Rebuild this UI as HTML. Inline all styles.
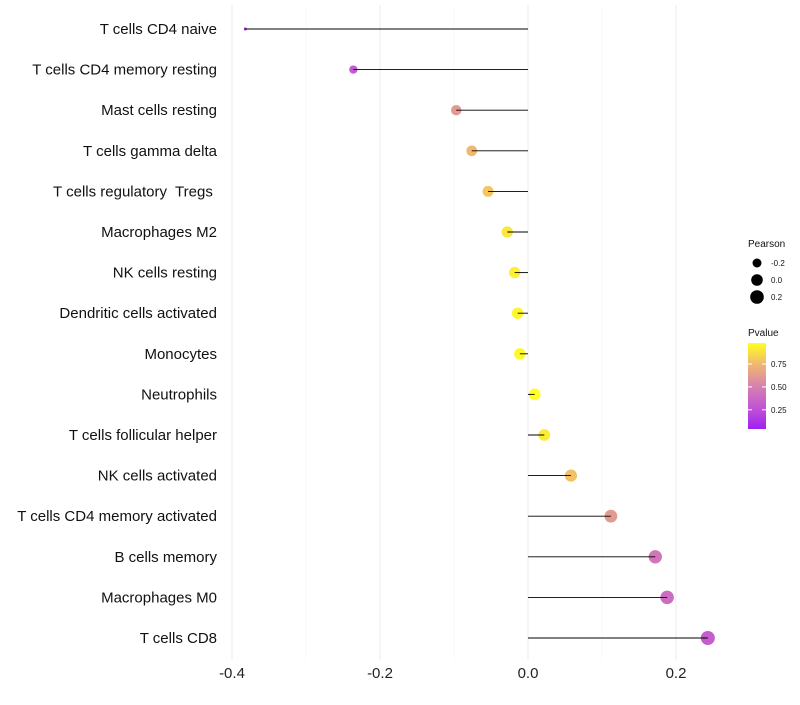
<!DOCTYPE html>
<html><head><meta charset="utf-8"><style>
body{margin:0;background:#fff;font-family:"Liberation Sans",Arial,sans-serif}
text{white-space:pre}
</style></head><body>
<svg id="c" width="800" height="700" xmlns="http://www.w3.org/2000/svg"></svg>
<script>
const categories=["T cells CD4 naive","T cells CD4 memory resting","Mast cells resting","T cells gamma delta","T cells regulatory  Tregs ","Macrophages M2","NK cells resting","Dendritic cells activated","Monocytes","Neutrophils","T cells follicular helper","NK cells activated","T cells CD4 memory activated","B cells memory","Macrophages M0","T cells CD8"];
const pearson=[-0.382,-0.236,-0.097,-0.076,-0.054,-0.028,-0.018,-0.014,-0.011,0.009,0.022,0.058,0.112,0.172,0.188,0.243];
const pvalue=[0.04,0.3,0.62,0.75,0.8,0.9,0.93,0.95,0.96,0.98,0.92,0.78,0.62,0.45,0.4,0.32];
const xTicks=[-0.4,-0.2,0.0,0.2];
const xTickLabels=["-0.4","-0.2","0.0","0.2"];
const sizeLegendValues=[-0.2,0.0,0.2];
const colorLegendTicks=[0.25,0.5,0.75];

const NS="http://www.w3.org/2000/svg",svg=document.getElementById('c');
function el(t,a,p){const e=document.createElementNS(NS,t);for(const k in a)e.setAttribute(k,a[k]);(p||svg).appendChild(e);return e;}
const xs=v=>528+v*740;
const ys=i=>29+i*40.6;
const pmin=Math.min(...pearson),pmax=Math.max(...pearson);
const rs=v=>1.5+5.5*Math.sqrt(Math.max(0,(v-pmin)/(pmax-pmin)));
const stops=[[0.04,[160,32,240]],[0.25,[190,80,215]],[0.5,[214,128,176]],[0.75,[240,184,112]],[0.98,[255,255,32]]];
function col(p){if(p<=stops[0][0])return rgb(stops[0][1]);for(let i=1;i<stops.length;i++){if(p<=stops[i][0]){const t=(p-stops[i-1][0])/(stops[i][0]-stops[i-1][0]);const a=stops[i-1][1],b=stops[i][1];return rgb(a.map((x,j)=>x+(b[j]-x)*t));}}return rgb(stops[stops.length-1][1]);}
function rgb(c){return`rgb(${c.map(Math.round).join(',')})`;}
const g=el('g',{});
for(let v=-0.4;v<=0.25;v+=0.1){const maj=Math.abs(Math.round(v*10))%2===0;el('line',{x1:xs(v),x2:xs(v),y1:5,y2:660,stroke:maj?'#ebebeb':'#f4f4f4','stroke-width':maj?1:0.6},g);}
xTicks.forEach((v,i)=>{const t=el('text',{x:xs(v),y:678,'text-anchor':'middle','font-size':15,fill:'#222'});t.textContent=xTickLabels[i];});
categories.forEach((c,i)=>{
const y=ys(i);
const t=el('text',{x:217,y:y+5,'text-anchor':'end','font-size':15,fill:'#111'});t.textContent=c;

const d=el('circle',{cx:xs(pearson[i]),cy:y,r:rs(pearson[i]),fill:col(pvalue[i])});

});
categories.forEach((c,i)=>{const l=el('line',{x1:xs(0),x2:xs(pearson[i]),y1:ys(i),y2:ys(i),stroke:'#000','stroke-width':0.9});});
const lt=el('text',{x:748,y:247,'font-size':10,fill:'#111'});lt.textContent='Pearson';
sizeLegendValues.forEach((v,i)=>{const y=263+i*17;el('circle',{cx:757,cy:y,r:rs(v),fill:'#000'});const t=el('text',{x:771,y:y+3,'font-size':8,fill:'#111'});t.textContent=v.toFixed(1);});
const ct=el('text',{x:748,y:336,'font-size':10,fill:'#111'});ct.textContent='Pvalue';
const defs=el('defs',{});const gr=el('linearGradient',{id:'pg',x1:0,y1:1,x2:0,y2:0},defs);
stops.forEach(s=>el('stop',{offset:(s[0]-0.04)/0.94,'stop-color':rgb(s[1])},gr));
const cb=el('rect',{x:748,y:343,width:18,height:86,fill:'url(#pg)'});
const cy=v=>429-(v-0.04)/0.94*86;
colorLegendTicks.forEach(v=>{const y=cy(v);el('line',{x1:748,x2:752,y1:y,y2:y,stroke:'#fff'});el('line',{x1:762,x2:766,y1:y,y2:y,stroke:'#fff'});const t=el('text',{x:771,y:y+3,'font-size':8,fill:'#111'});t.textContent=v.toFixed(2);});
</script>
</body></html>
